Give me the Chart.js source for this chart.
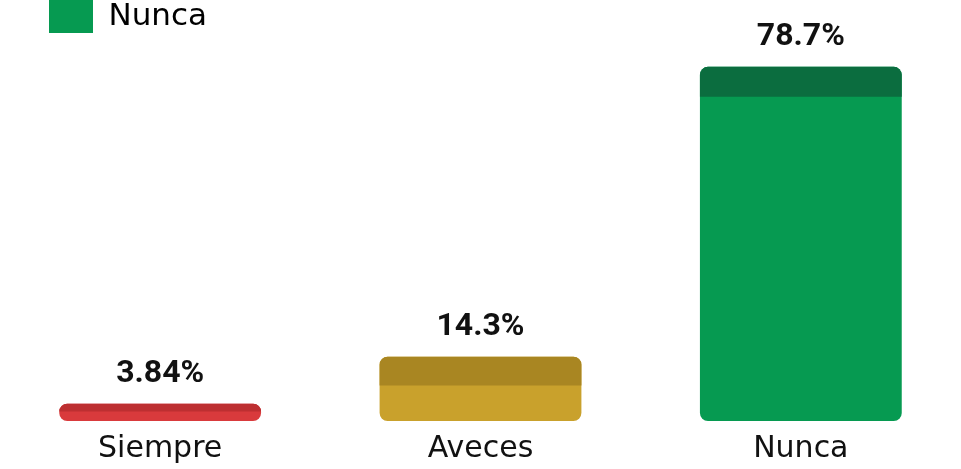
<!DOCTYPE html>
<html>
<head>
<meta charset="utf-8">
<script src="https://cdn.jsdelivr.net/npm/chart.js@4.4.0/dist/chart.umd.min.js"></script>
<style>
  html, body { margin: 0; padding: 0; background: #fff; }
  #wrap { width: 961px; height: 469px; }
</style>
</head>
<body>
<div id="wrap"><canvas id="bars"></canvas></div>
<script>
var categories = ['Siempre', 'Aveces', 'Nunca'];
var values = [3.84, 14.3, 78.7];
var valueLabels = ['3.84%', '14.3%', '78.7%'];
var legendLabel = 'Nunca';

var fillColors = ['#d93a3c', '#c9a12c', '#069a51'];
var topColors = ['#bd2f31', '#a98622', '#0b6d3f'];

// darker top face so the bars look like slabs
var topFace = {
	id: 'topFace',
	afterDatasetsDraw: function (chart) {
		var c = chart.ctx;
		chart.getDatasetMeta(0).data.forEach(function (bar, i) {
			var h = bar.base - bar.y;
			var band = Math.min(30, h * 0.45);
			var w = bar.width;
			c.save();
			c.fillStyle = topColors[i];
			c.beginPath();
			c.roundRect(bar.x - w / 2, bar.y, w, band, [8, 8, 0, 0]);
			c.fill();
			c.restore();
		});
	}
};

var valueText = {
	id: 'valueText',
	afterDatasetsDraw: function (chart) {
		var c = chart.ctx;
		c.save();
		c.font = 'bold 32px Roboto';
		c.fillStyle = '#111';
		c.textAlign = 'center';
		c.textBaseline = 'bottom';
		chart.getDatasetMeta(0).data.forEach(function (bar, i) {
			c.fillText(valueLabels[i], bar.x, bar.y - 14);
		});
		c.restore();
	}
};

// move the legend in from the left edge
var legendShift = {
	id: 'legendShift',
	afterLayout: function (chart) {
		chart.legend.left += 49;
		chart.legend.right += 49;
	}
};

var ctx = document.getElementById('bars');

var chart = new Chart(ctx, {
	type: 'bar',
	data: {
		labels: categories,
		datasets: [{
			label: legendLabel,
			data: values,
			backgroundColor: fillColors,
			borderRadius: 8,
			borderSkipped: false,
			barPercentage: 0.63,
			categoryPercentage: 1
		}]
	},
	options: {
		responsive: true,
		maintainAspectRatio: false,
		animation: false,
		layout: {
			padding: { left: 0, right: 0, top: 0, bottom: 0 }
		},
		scales: {
			x: {
				grid: { display: false },
				border: { display: false },
				ticks: {
					color: '#111',
					font: { family: 'DejaVu Sans', size: 30 },
					padding: 2
				}
			},
			y: {
				display: false,
				min: 0,
				max: 84
			}
		},
		plugins: {
			tooltip: { enabled: false },
			legend: {
				position: 'top',
				align: 'start',
				labels: {
					boxWidth: 44,
					boxHeight: 33,
					padding: 0,
					color: '#111',
					font: { family: 'DejaVu Sans', size: 31 },
					generateLabels: function () {
						return [{
							text: legendLabel,
							fillStyle: fillColors[2],
							strokeStyle: fillColors[2],
							lineWidth: 0
						}];
					}
				}
			}
		}
	},
	plugins: [legendShift, topFace, valueText]
});
</script>
</body>
</html>
